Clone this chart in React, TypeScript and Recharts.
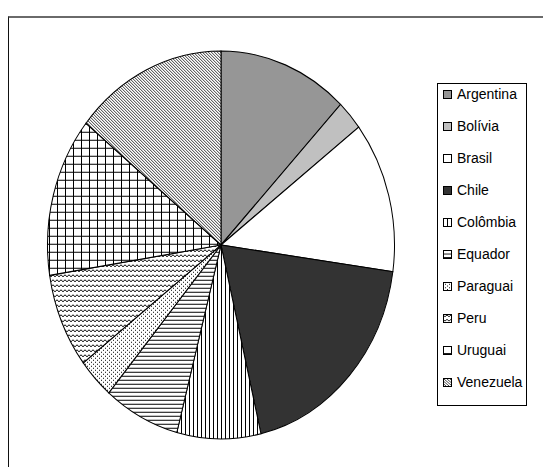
import { PieChart, Pie, Cell } from 'recharts';

const countries = ['Argentina', 'Bolívia', 'Brasil', 'Chile', 'Colômbia', 'Equador', 'Paraguai', 'Peru', 'Uruguai', 'Venezuela'];
const shares = [12.1, 2.5, 12.6, 19.1, 7.8, 7.1, 3.4, 7.9, 13.3, 14.2];

const FILLS = [
  '#969696',
  '#c0c0c0',
  '#ffffff',
  '#333333',
  'url(#p-vlines)',
  'url(#p-hlines)',
  'url(#p-dots)',
  'url(#p-zigzag)',
  'url(#p-grid)',
  'url(#p-diag)',
];

const data = countries.map((name, i) => ({ name, value: shares[i] }));

// the reference pie is an ellipse, so the chart is stretched vertically
const STRETCH = 1.118;
const undo = `scale(1, ${1 / STRETCH})`;

function Patterns() {
  return (
    <defs>
      <pattern id="p-vlines" width="4" height="4" patternUnits="userSpaceOnUse" patternTransform={undo}>
        <rect width="4" height="4" fill="#fff" />
        <rect x="0" width="1" height="4" fill="#000" />
      </pattern>
      <pattern id="p-hlines" width="4" height="4" patternUnits="userSpaceOnUse" patternTransform={undo}>
        <rect width="4" height="4" fill="#fff" />
        <rect y="0" width="4" height="1" fill="#000" />
      </pattern>
      <pattern id="p-dots" width="4" height="4" patternUnits="userSpaceOnUse" patternTransform={undo}>
        <rect width="4" height="4" fill="#fff" />
        <rect x="0" y="0" width="1" height="1" fill="#000" />
        <rect x="2" y="2" width="1" height="1" fill="#000" />
      </pattern>
      <pattern id="p-zigzag" width="4" height="5" patternUnits="userSpaceOnUse" patternTransform={undo}>
        <rect width="4" height="5" fill="#fff" />
        <path d="M0 1 L2 3 L4 1" stroke="#000" strokeWidth="1" fill="none" />
      </pattern>
      <pattern id="p-grid" width="8" height="8" patternUnits="userSpaceOnUse" patternTransform={undo}>
        <rect width="8" height="8" fill="#fff" />
        <rect x="0" width="1" height="8" fill="#000" />
        <rect y="0" width="8" height="1" fill="#000" />
      </pattern>
      <pattern id="p-diag" width="3" height="3" patternUnits="userSpaceOnUse" patternTransform={undo}>
        <rect width="3" height="3" fill="#fff" />
        <path d="M0 0 L3 3 M-1 2 L1 4 M2 -1 L4 1" stroke="#000" strokeWidth="0.8" />
      </pattern>
    </defs>
  );
}

function Swatch({ fill }: { fill: string }) {
  return (
    <svg width={9} height={9} style={{ display: 'block', flex: 'none' }}>
      <rect x={0.5} y={0.5} width={8} height={8} fill={fill} stroke="#000" strokeWidth={1} />
    </svg>
  );
}

export default function App() {
  return (
    <div style={{
      position: 'absolute',
      left: 0,
      top: 0,
      width: 543,
      height: 467,
      background: '#fff',
      overflow: 'hidden',
      fontFamily: '"Liberation Sans", Arial, sans-serif',
    }}>
      {/* chart area frame */}
      <div style={{
        position: 'absolute',
        left: 8,
        top: 16,
        width: 560,
        height: 480,
        borderTop: '2px solid #6a6a6a',
        borderLeft: '1px solid #111',
      }} />

      <div style={{
        position: 'absolute',
        left: 41,
        top: 65,
        width: 360,
        height: 360,
        transform: `scaleY(${STRETCH})`,
        transformOrigin: '180px 180px',
      }}>
        <PieChart width={360} height={360} margin={{ top: 0, right: 0, bottom: 0, left: 0 }}>
          <Patterns />
          <Pie
            data={data}
            dataKey="value"
            nameKey="name"
            cx={180}
            cy={180}
            outerRadius={173.5}
            startAngle={90}
            endAngle={-270}
            stroke="#000"
            strokeWidth={1}
            isAnimationActive={false}
          >
            {data.map((d, i) => (
              <Cell key={d.name} fill={FILLS[i]} />
            ))}
          </Pie>
        </PieChart>
      </div>

      <div style={{
        position: 'absolute',
        left: 437,
        top: 83,
        width: 90,
        height: 323,
        boxSizing: 'border-box',
        border: '1px solid #000',
        background: '#fff',
      }}>
        {countries.map((name, i) => (
          <div key={name} style={{
            display: 'flex',
            alignItems: 'center',
            height: 20,
            marginBottom: 12,
            paddingLeft: 5,
            fontSize: 14,
            color: '#000',
            whiteSpace: 'nowrap',
          }}>
            <Swatch fill={FILLS[i]} />
            <span style={{ marginLeft: 5 }}>{name}</span>
          </div>
        ))}
      </div>
    </div>
  );
}
